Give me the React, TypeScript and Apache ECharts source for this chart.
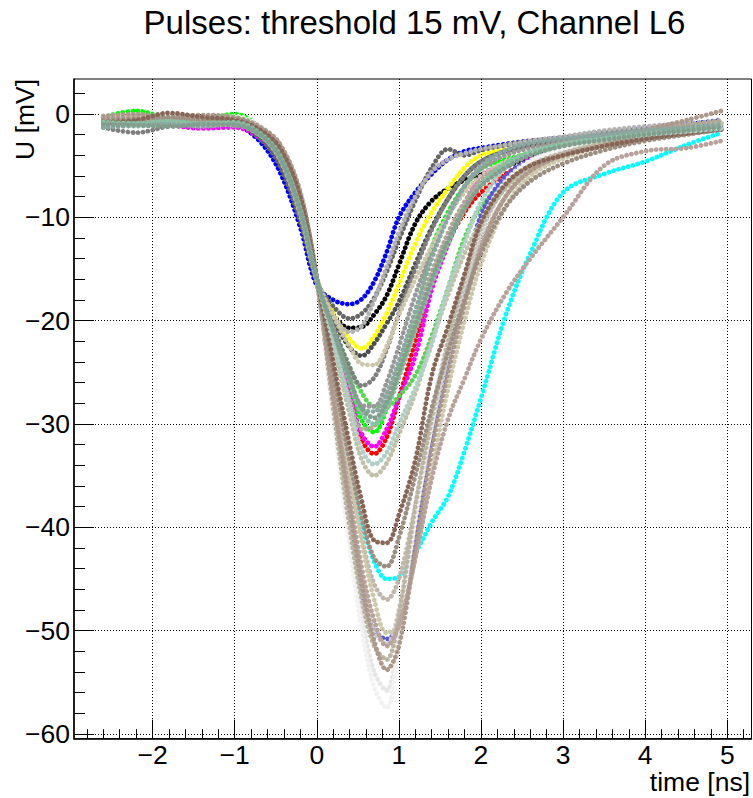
import React, { useEffect, useRef } from "react";
import * as echarts from "echarts";

// time knots [ns]
const TIME = [-2.6, -2.2, -1.8, -1.4, -1.0, -0.7, -0.45, -0.2, 0, 0.2, 0.4, 0.55, 0.7, 0.85, 1.0, 1.2, 1.4, 1.6, 1.8, 2.0, 2.3, 2.6, 3.0, 3.5, 4.0, 4.5, 4.93];

// pulse traces (U [mV]) per ROOT colour index
const P1 = [-0.9, -0.7, -0.8, -0.6, -0.9, -2.1, -4.8, -10.2, -16.2, -19.4, -20.7, -20.6, -19.4, -17.6, -14.6, -10.6, -8.4, -7.2, -6.4, -5.9, -5.1, -4.2, -3.3, -2.5, -1.9, -1.5, -1.1];
const P2 = [-0.7, -0.9, -0.6, -0.8, -0.9, -2.0, -4.3, -9.5, -16.2, -21.8, -27.5, -31.6, -32.9, -31.3, -27.5, -22, -16.5, -12.5, -9.5, -7.6, -5.8, -4.6, -3.6, -2.8, -2.2, -1.6, -1.2];
const P3 = [-0.3, 0.3, -0.4, -0.5, 0.0, -1.3, -3.8, -9.2, -16, -21, -26, -29.7, -30.8, -28.5, -24.8, -20, -13, -9.5, -7, -5.3, -4.4, -3.8, -3.0, -2.4, -1.8, -1.4, -1.2];
const P4 = [-0.9, -1.0, -0.8, -0.7, -1.0, -2.6, -5.6, -11, -16.6, -18.0, -18.4, -17.9, -16.2, -13.4, -10.0, -7.6, -5.8, -4.4, -3.6, -3.3, -2.9, -2.6, -2.3, -1.9, -1.4, -1.0, -0.6];
const P5 = [-0.8, -0.6, -0.7, -0.8, -0.7, -2.0, -4.6, -10, -16, -19.3, -21.8, -22.7, -21.5, -19.3, -16.5, -12.5, -9.5, -7.2, -5.2, -4.0, -3.4, -3.0, -2.6, -2.2, -1.8, -1.4, -1.0];
const P6 = [-1.0, -1.0, -1.1, -1.4, -1.3, -2.3, -4.5, -9.8, -16.3, -21.5, -27, -31, -32.2, -30.5, -27.5, -23.4, -17, -12.6, -8.8, -6.0, -4.8, -4.2, -3.6, -3.0, -2.3, -1.7, -1.3];
const P7 = [-0.6, -0.8, -0.5, -0.7, -0.6, -1.6, -3.5, -8.5, -16, -27, -34.6, -39.5, -43.3, -45, -44.8, -42.5, -39.5, -37, -32.6, -27.5, -19.5, -13.5, -7.6, -5.8, -4.6, -3.0, -1.8];
const P8 = [-0.5, -0.7, -0.6, -0.4, -0.6, -1.7, -4.0, -9.2, -16, -20.5, -24.5, -27, -28.3, -28.3, -27.3, -25.3, -21.5, -16.8, -12.0, -9.0, -6.5, -5.0, -3.9, -3.0, -2.2, -1.6, -1.2];
const P9 = [-0.8, -0.6, -0.7, -0.9, -0.7, -1.5, -3.2, -8, -16, -28.5, -38.8, -46.2, -50, -50.8, -49.4, -41.2, -31.6, -24, -16.2, -9.8, -6, -4.5, -3.4, -2.8, -2.1, -1.6, -1.2];
const P11 = [-0.7, -0.5, -0.8, -0.6, -0.5, -1.4, -3.2, -8.2, -16, -26, -35, -41, -45.5, -47, -45, -38, -30, -23, -17.3, -12.5, -8, -5.6, -4.0, -3.0, -2.3, -1.7, -1.2];
const P12 = [-1.0, -0.9, -1.0, -0.8, -0.9, -2.0, -4.5, -9.8, -16.2, -19.8, -22.6, -23.4, -22.2, -20.3, -18.2, -14.5, -11.0, -8.2, -6.0, -4.6, -3.6, -3.0, -2.5, -2.0, -1.5, -1.2, -0.9];
const P13 = [-1.1, -0.9, -1.0, -0.9, -1.0, -2.3, -5.0, -10.5, -16.2, -18.6, -19.8, -19.3, -17.8, -15.3, -12.2, -8.4, -5.2, -3.4, -4.0, -3.5, -3.0, -2.6, -2.3, -1.8, -1.5, -1.2, -0.9];
const P14 = [-1.3, -1.8, -1.2, -1.0, -0.8, -1.8, -3.9, -9.2, -16, -20.5, -24.5, -26.3, -25.5, -22.8, -19.3, -15, -11.2, -8.2, -6.0, -4.6, -3.6, -3.0, -2.4, -1.9, -1.5, -1.1, -0.8];
const P15 = [-0.6, -0.8, -0.7, -0.6, -0.8, -1.8, -4.0, -9.3, -16, -21, -25.6, -28.2, -28.3, -26, -22.5, -17.5, -13.3, -9.8, -7.0, -5.3, -4.0, -3.3, -2.7, -2.1, -1.6, -1.2, -0.9];
const P16 = [-0.5, -0.4, -0.6, -0.5, -0.6, -1.9, -4.4, -9.8, -16, -19.5, -21.1, -20.5, -18, -14.8, -11.5, -8.0, -5.6, -4.4, -3.8, -3.4, -3.0, -2.6, -2.2, -1.6, -1.2, -0.9, -0.7];
const P17 = [-0.4, -0.3, -0.5, -0.4, -0.5, -1.4, -3.1, -8, -16, -28, -38, -45, -50, -51.3, -48, -39, -30.5, -23.5, -17, -11.5, -7, -4.8, -3.5, -2.6, -2.0, -1.5, -1.0];
const P18 = [-0.2, -0.3, -0.2, -0.4, -0.3, -1.2, -3.0, -7.8, -16, -29, -41, -48.5, -54, -55.8, -50, -38.5, -29, -21.5, -15.5, -10.5, -6.5, -4.5, -3.3, -2.5, -1.9, -1.4, -1.0];
const P19 = [-0.1, -0.2, -0.1, -0.3, -0.2, -1.1, -2.9, -7.6, -16, -29.5, -42, -50, -55.5, -57.5, -51, -39.5, -30, -22, -16, -11, -6.8, -4.6, -3.4, -2.6, -2.0, -1.5, -1.1];
const P20 = [-0.5, -0.4, -0.3, -0.5, -0.4, -1.3, -3.0, -7.9, -16, -26, -35, -41.5, -47, -50.2, -49.5, -43, -34.5, -26.5, -20, -14.5, -9, -6, -4.3, -3.1, -2.3, -1.7, -1.2];
const P21 = [-0.6, -0.4, -0.5, -0.6, -0.7, -1.9, -4.3, -9.6, -16, -19.5, -22.5, -24.2, -24.3, -22.5, -19.5, -16.0, -12.8, -9.8, -7.6, -6.0, -4.6, -3.8, -3.0, -2.4, -1.8, -1.3, -0.8];
const P22 = [-0.7, -0.6, -0.4, -0.7, -0.6, -1.6, -3.7, -8.8, -16, -22.5, -29, -33.5, -35.0, -33.8, -31, -27, -22, -17.5, -13.5, -10.5, -7.2, -5.2, -3.8, -2.8, -2.0, -1.4, -0.9];
const P23 = [-0.3, -0.5, -0.3, -0.2, -0.4, -1.3, -3.1, -7.9, -16, -28.5, -40, -47, -51.5, -52.8, -48.5, -38, -29.5, -22, -16, -11, -7, -5, -3.8, -2.9, -2.2, -1.6, -1.1];
const P24 = [-0.9, -0.7, -0.6, -0.8, -0.7, -1.9, -4.2, -9.5, -16.2, -22, -27.5, -30.5, -30.2, -27.5, -24, -19.5, -15.3, -11.5, -8.5, -6.4, -4.8, -3.7, -2.8, -2.1, -1.6, -1.1, -0.6];
const P25 = [-0.4, -0.2, -0.4, -0.3, -0.5, -1.3, -3.0, -7.7, -16, -27, -37, -44, -49, -51.5, -49.5, -43, -35.3, -29.5, -25.6, -21.8, -17.4, -14, -10, -5.0, -3.6, -3.3, -2.6];
const P26 = [-0.2, 0.0, -0.3, -0.1, -0.3, -1.2, -2.9, -7.6, -16, -27.5, -38, -45.5, -51, -53.8, -51.5, -42, -32.5, -25, -18.5, -13, -8, -5.5, -4.0, -3.0, -1.6, -0.6, 0.3];
const P27 = [-0.6, -0.5, -0.4, -0.6, -0.5, -1.5, -3.4, -8.3, -16, -25, -33.5, -39, -43, -43.8, -41, -35, -28.5, -23, -18, -13.5, -9, -6.5, -4.8, -3.5, -2.6, -2.0, -1.5];
const P28 = [-0.8, -0.6, 0.1, -0.3, -0.6, -1.5, -3.3, -8, -15.8, -24, -32, -37.5, -41.3, -41.5, -38.8, -33.5, -25.3, -20.5, -15.5, -10.5, -6.8, -5.0, -4.0, -3.1, -2.4, -1.9, -1.5];
const P29 = [-1.1, -1.2, -0.9, -1.0, -1.1, -2.0, -4.2, -9.4, -16, -22, -28, -32.5, -33.9, -32.8, -30, -26.5, -22.3, -16.8, -12.5, -8.5, -5.2, -3.8, -3.0, -2.4, -2.0, -1.7, -1.4];
const P30 = [-0.8, -0.9, -0.7, -0.9, -0.8, -1.8, -4.0, -9.2, -16, -21, -26, -29, -30, -28.5, -25.5, -21, -16.5, -12.5, -9.2, -6.8, -4.8, -3.7, -2.9, -2.3, -1.8, -1.5, -1.2];
const P31 = [-1.3, -1.1, -1.0, -1.2, -1.0, -2.0, -4.3, -9.6, -16, -21, -25.7, -28.5, -28.8, -27, -24, -19, -14, -10, -7, -5, -3.5, -2.8, -2.4, -2.0, -1.6, -1.3, -1.0];
const P32 = [-1.0, -1.1, -1.2, -1.0, -1.1, -1.9, -4.1, -9.3, -16, -20.8, -25.5, -28.5, -29.4, -28, -25, -20.5, -16, -12.2, -9.2, -7.0, -5.2, -4.0, -3.1, -2.5, -2.0, -1.6, -1.3];

const TRACES = [P1, P2, P3, P4, P5, P6, P7, P8, P9, P11, P12, P13, P14, P15, P16, P17, P18, P19, P20, P21, P22, P23, P24, P25, P26, P27, P28, P29, P30, P31, P32];
const COLORS = [
  "#000000", "#ff0000", "#00ff00", "#0000ff", "#ffff00", "#ff00ff", "#00ffff", "#59d454", "#5954d9",
  "#c0b6ac", "#4d4d4d", "#666666", "#7f7f7f", "#999999", "#b3b3b3", "#cccccc", "#e6e6e6", "#f2f2f2",
  "#ccc7ab", "#ccc7ab", "#c2bfa8", "#bab5a3", "#b3a696", "#b8a39c", "#ad998c", "#9c8f82", "#876657",
  "#b0cfc7", "#85c2a3", "#8aa8a1", "#829e8c",
];

// axes
const X_MIN = -2.957;
const X_MAX = 5.295;
const Y_MIN = -60.455;
const Y_MAX = 3.387;
const X_MAJOR = [-2, -1, 0, 1, 2, 3, 4, 5];
const X_MINOR = [-2.8, -2.6, -2.4, -2.2, -1.8, -1.6, -1.4, -1.2, -0.8, -0.6, -0.4, -0.2, 0.2, 0.4, 0.6, 0.8, 1.2, 1.4, 1.6, 1.8, 2.2, 2.4, 2.6, 2.8, 3.2, 3.4, 3.6, 3.8, 4.2, 4.4, 4.6, 4.8, 5.2];
const Y_MAJOR = [-60, -50, -40, -30, -20, -10, 0];
const Y_MINOR = [-58, -56, -54, -52, -48, -46, -44, -42, -38, -36, -34, -32, -28, -26, -24, -22, -18, -16, -14, -12, -8, -6, -4, -2, 2];

const TITLE = "Pulses: threshold 15 mV, Channel L6";
const X_TITLE = "time [ns]";
const Y_TITLE = "U [mV]";

const FONT = "'Liberation Sans', Arial, Helvetica, sans-serif";
const fmt = (v: number) => (v < 0 ? "\u2212" + Math.abs(v) : String(v));

export default function App() {
  const ref = useRef<HTMLDivElement>(null);
  useEffect(() => {
    if (!ref.current) return;
    const chart = echarts.init(ref.current, undefined, { renderer: "svg" });
    const series = TRACES.map((vals, k) => ({
      type: "line",
      xAxisIndex: 0,
      yAxisIndex: 0,
      data: TIME.map((t, i) => [t, vals[i]]),
      smooth: 0.35,
      showSymbol: false,
      silent: true,
      z: 3,
      lineStyle: { color: COLORS[k], width: 4.8, type: [0.01, 5], cap: "round", join: "round" },
    }));
    chart.setOption({
      animation: false,
      backgroundColor: "#ffffff",
      grid: { left: 74, right: 1.5, top: 79, bottom: 59.3, show: true, borderColor: "#000", borderWidth: 1, backgroundColor: "transparent" },
      xAxis: [
        {
          type: "value", min: X_MIN, max: X_MAX, position: "bottom",
          axisLine: { show: true, onZero: false, lineStyle: { color: "#000", width: 1.5 } },
          axisTick: { show: true, inside: true, length: 19, customValues: X_MAJOR, lineStyle: { color: "#000", width: 1 } },
          axisLabel: { show: true, customValues: X_MAJOR, formatter: fmt, fontSize: 26.5, fontFamily: FONT, color: "#000", margin: 3 },
          splitLine: { show: true, lineStyle: { color: "#000", width: 1, type: [1, 2] } },
        },
        {
          type: "value", min: X_MIN, max: X_MAX, position: "bottom",
          axisLine: { show: false, onZero: false },
          axisTick: { show: true, inside: true, length: 9.5, customValues: X_MINOR, lineStyle: { color: "#000", width: 1 } },
          axisLabel: { show: false },
          splitLine: { show: false },
        },
      ],
      yAxis: [
        {
          type: "value", min: Y_MIN, max: Y_MAX, position: "left",
          axisLine: { show: true, onZero: false, lineStyle: { color: "#000", width: 1.5 } },
          axisTick: { show: true, inside: true, length: 20, customValues: Y_MAJOR, lineStyle: { color: "#000", width: 1 } },
          axisLabel: { show: true, customValues: Y_MAJOR, formatter: fmt, fontSize: 26.5, fontFamily: FONT, color: "#000", margin: 4 },
          splitLine: { show: true, lineStyle: { color: "#000", width: 1, type: [1, 2] } },
        },
        {
          type: "value", min: Y_MIN, max: Y_MAX, position: "left", offset: 0,
          axisLine: { show: false, onZero: false },
          axisTick: { show: true, inside: true, length: 11, customValues: Y_MINOR, lineStyle: { color: "#000", width: 1 } },
          axisLabel: { show: false },
          splitLine: { show: false },
        },
      ],
      series,
      graphic: [
        { type: "text", x: 414.5, y: 22, style: { text: TITLE, fontSize: 33, fontFamily: FONT, fill: "#000", textAlign: "center", textVerticalAlign: "middle" } },
        { type: "text", x: 750, y: 782.3, style: { text: X_TITLE, fontSize: 26.5, fontFamily: FONT, fill: "#000", textAlign: "right", textVerticalAlign: "middle" } },
        { type: "text", x: 24.5, y: 119.5, rotation: Math.PI / 2, style: { text: Y_TITLE, fontSize: 26.5, fontFamily: FONT, fill: "#000", textAlign: "center", textVerticalAlign: "middle" } },
      ],
    });
    return () => chart.dispose();
  }, []);
  return <div ref={ref} style={{ position: "absolute", left: 0, top: 0, width: 753, height: 798 }} />;
}
